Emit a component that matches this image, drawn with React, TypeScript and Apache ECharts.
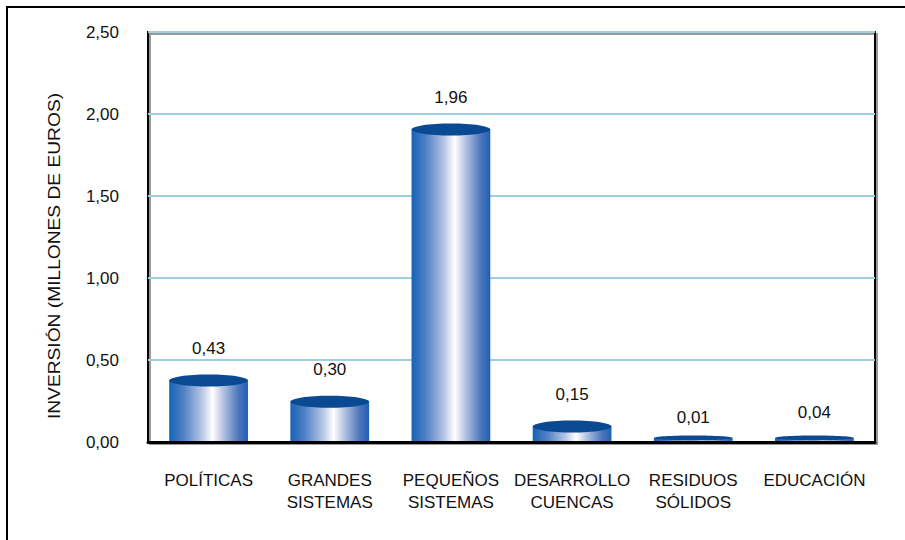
import React, { useEffect, useRef } from "react";
import * as echarts from "echarts";

const categories = [
  "POLÍTICAS",
  "GRANDES\nSISTEMAS",
  "PEQUEÑOS\nSISTEMAS",
  "DESARROLLO\nCUENCAS",
  "RESIDUOS\nSÓLIDOS",
  "EDUCACIÓN",
];
const values = [0.43, 0.3, 1.96, 0.15, 0.01, 0.04];
const yTitle = "INVERSIÓN (MILLONES DE EUROS)";

const FONT = "'Liberation Sans', Arial, sans-serif";
const fmt = (v: number) => v.toFixed(2).replace(".", ",");

export default function App() {
  const ref = useRef<HTMLDivElement>(null);
  useEffect(() => {
    if (!ref.current) return;
    const chart = echarts.init(ref.current, undefined, { renderer: "svg" });
    const bodyGradient = new echarts.graphic.LinearGradient(0, 0, 1, 0, [
      { offset: 0, color: "#1763b6" },
      { offset: 0.18, color: "#4f7fc4" },
      { offset: 0.42, color: "#b9c8e6" },
      { offset: 0.55, color: "#ffffff" },
      { offset: 0.68, color: "#b6c4e3" },
      { offset: 0.88, color: "#4d76bd" },
      { offset: 1, color: "#1f60b2" },
    ]);
    chart.setOption({
      animation: false,
      textStyle: { fontFamily: FONT },
      graphic: [
        {
          type: "rect",
          shape: { x: 7, y: 7, width: 1200, height: 1200 },
          style: { fill: "none", stroke: "#000", lineWidth: 2 },
          z: 100,
        },
        {
          type: "text",
          x: 55,
          y: 256,
          rotation: Math.PI / 2,
          scaleX: 1.2,
          style: {
            text: yTitle,
            fontSize: 16,
            fontFamily: FONT,
            fill: "#111",
            align: "center",
            verticalAlign: "middle",
          },
        },
      ],
      grid: {
        left: 148,
        right: 30,
        top: 32,
        bottom: 98,
        show: true,
        borderColor: "#000",
        borderWidth: 2,
        backgroundColor: "transparent",
        shadowColor: "#9a9a9a",
        shadowOffsetX: 2,
        shadowOffsetY: 2,
        shadowBlur: 0,
      },
      xAxis: {
        type: "category",
        data: categories,
        axisLine: { show: true, lineStyle: { color: "#000", width: 3 } },
        axisTick: { show: false },
        axisLabel: {
          interval: 0,
          margin: 27,
          fontSize: 17,
          lineHeight: 22,
          color: "#111",
          fontFamily: FONT,
          verticalAlign: "top",
        },
      },
      yAxis: {
        type: "value",
        min: 0,
        max: 2.5,
        interval: 0.5,
        axisLine: { show: false },
        axisTick: { show: false },
        axisLabel: {
          margin: 29,
          fontSize: 17,
          color: "#111",
          fontFamily: FONT,
          formatter: (v: number) => fmt(v),
        },
        splitLine: { lineStyle: { color: "#9fcde2", width: 2 } },
      },
      series: [
        {
          type: "custom",
          data: values.map((v, i) => [i, v]),
          renderItem: (params: any, api: any) => {
            const idx = api.value(0);
            const val = api.value(1);
            const top = api.coord([idx, val]);
            const base = api.coord([idx, 0]);
            const bw = api.size([1, 0])[0] * 0.65;
            const cx = top[0];
            const baseY = base[1] - 1;
            let topY = top[1] + 9;
            if (topY > baseY - 3) topY = baseY - 3;
            const ry = Math.min(6, Math.max(1.2, (baseY - topY) * 0.8));
            return {
              type: "group",
              children: [
                {
                  type: "rect",
                  shape: { x: cx - bw / 2, y: topY, width: bw, height: baseY - topY },
                  style: { fill: bodyGradient },
                },
                {
                  type: "ellipse",
                  shape: { cx, cy: topY, rx: bw / 2, ry },
                  style: { fill: "#0a4a92" },
                },
                {
                  type: "text",
                  style: {
                    text: fmt(val),
                    x: cx,
                    y: top[1] - 23,
                    align: "center",
                    verticalAlign: "middle",
                    fontSize: 17,
                    fontFamily: FONT,
                    fill: "#111",
                  },
                },
              ],
            };
          },
        },
      ],
    });
    return () => chart.dispose();
  }, []);
  return (
    <div
      ref={ref}
      style={{ position: "fixed", left: 0, top: 0, width: 905, height: 540, background: "#fff" }}
    />
  );
}
